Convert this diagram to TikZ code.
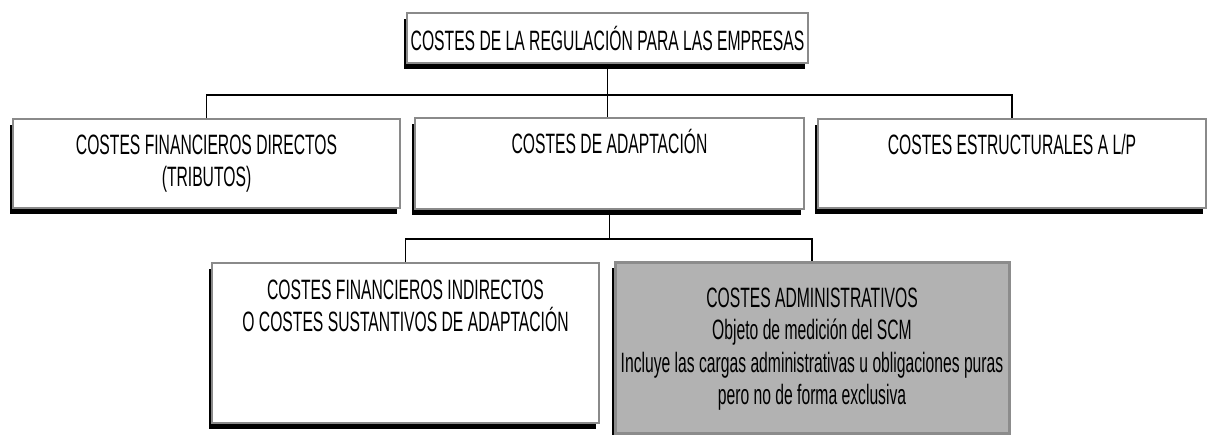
\documentclass[tikz,border=0pt]{standalone}
\usepackage{fontspec}
\setmainfont{Liberation Sans}[FakeStretch=0.56]
\usetikzlibrary{positioning,calc,shadows}

\definecolor{boxgray}{HTML}{8A8A8A}
\definecolor{admgray}{HTML}{B2B2B2}
\definecolor{admline}{HTML}{8C8C8C}

\tikzset{
	box/.style={draw=boxgray, line width=1.5pt, fill=white, inner sep=0pt,
		drop shadow={shadow xshift=-3pt, shadow yshift=-6pt, fill=black, opacity=1}},
	adm/.style={draw=admline, line width=3pt, fill=admgray},
	txt/.style={inner sep=0pt, align=center, font=\fontsize{28}{32.5}\selectfont},
	link/.style={line width=1.6pt},
}

\begin{document}
\begin{tikzpicture}[x=1pt, y=-1pt]
	\useasboundingbox (0,0) rectangle (1207,434);
	
	\node[box, txt, minimum width=401pt, minimum height=50pt] (t1) at (607.5,38) {COSTES DE LA REGULACIÓN PARA LAS EMPRESAS};
	
	\node[box, minimum width=387pt, minimum height=89pt] (a1) at (206.5,163.5) {};
	\node[box, minimum width=389pt, minimum height=91pt] (a2) at (609.5,163.5) {};
	\node[box, minimum width=388pt, minimum height=89pt] (a3) at (1012,163.5) {};
	
	\node[box, minimum width=387pt, minimum height=160pt] (b1) at (405.5,343) {};
	\node[box, adm, minimum width=394pt, minimum height=171pt] (b2) at (812,347.5) {};
	
	\node[txt, below=16pt of a1.north] (ta1) {COSTES FINANCIEROS DIRECTOS\\(TRIBUTOS)};
	\node[txt, below=12pt of a2.north] (ta2) {COSTES DE ADAPTACIÓN};
	\node[txt, below=16pt of a3.north] (ta3) {COSTES ESTRUCTURALES A L/P};
	\node[txt, below=17pt of b1.north] (tb1) {COSTES FINANCIEROS INDIRECTOS\\O COSTES SUSTANTIVOS DE ADAPTACIÓN};
	\node[txt, below=27pt of b2.north] (tb2) {COSTES ADMINISTRATIVOS\\Objeto de medición del SCM\\Incluye las cargas administrativas u obligaciones puras\\pero no de forma exclusiva};
	
	\coordinate (i1) at ($(t1.south)+(0,31)$);
	\coordinate (i2) at ($(a2.south)+(0,29)$);
	
	\draw[link] (t1.south) -- (i1);
	\draw[link] (a1.north) |- (i1) -| (a3.north);
	\draw[link] (i1) -- (i1 |- a2.north);
	\draw[link] (a2.south) -- (i2);
	\draw[link] (b1.north) |- (i2) -| (b2.north);
\end{tikzpicture}
\end{document}
